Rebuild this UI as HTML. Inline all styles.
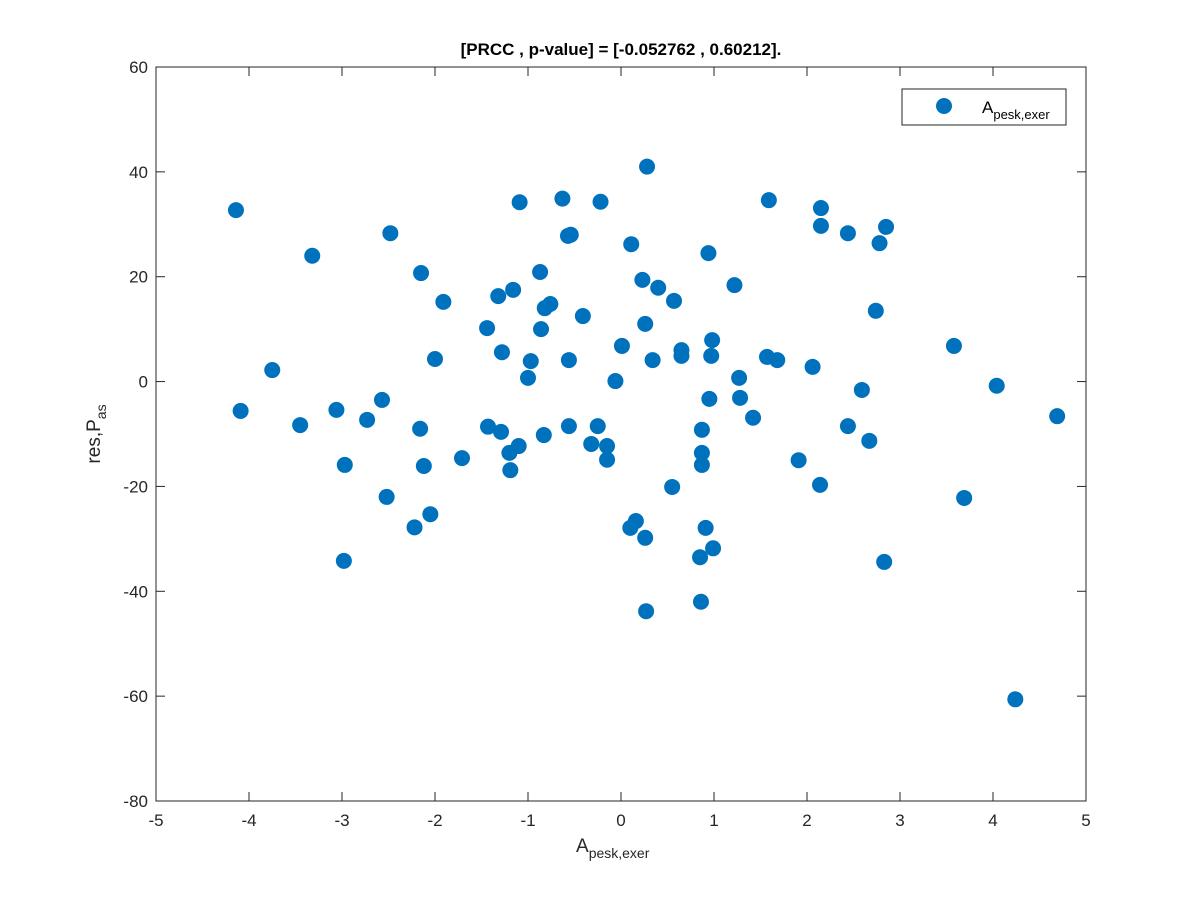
<!DOCTYPE html>
<html><head><meta charset="utf-8"><style>
body{margin:0;background:#fff;}
svg text{font-family:"Liberation Sans",Helvetica,sans-serif;}
</style></head><body>
<svg id="chart" width="1200" height="900" xmlns="http://www.w3.org/2000/svg">
<rect width="1200" height="900" fill="#fff"/>
<text x="621" y="55" text-anchor="middle" font-size="17" font-weight="bold" fill="#000">[PRCC , p-value] = [-0.052762 , 0.60212].</text>
<g id="axes"></g>
<g id="points"></g>
<text x="576" y="852" font-size="19" fill="#262626">A<tspan font-size="14" dy="6">pesk,exer</tspan></text>
<text transform="translate(100,434) rotate(-90)" text-anchor="middle" font-size="19" fill="#262626">res,P<tspan font-size="14" dy="6">as</tspan></text>
<g>
<rect x="902" y="89" width="164" height="36" fill="#fff" stroke="#262626" stroke-width="1"/>
<circle cx="944" cy="106" r="8" fill="#0072BD"/>
<text x="982" y="113" font-size="17" fill="#000">A<tspan font-size="13" dy="6">pesk,exer</tspan></text>
</g>
</svg>
<script>
const xTicks=[-5,-4,-3,-2,-1,0,1,2,3,4,5];
const yTicks=[-80,-60,-40,-20,0,20,40,60];
const xVals=[-4.14,-4.09,-3.75,-3.45,-3.32,-3.06,-2.97,-2.98,-2.73,-2.57,-2.52,-2.48,-2.15,-2.16,-2.12,-2.22,-2.05,-2.00,-1.91,-1.71,-1.44,-1.43,-1.32,-1.29,-1.28,-1.16,-1.20,-1.19,-1.10,-1.09,-1.00,-0.97,-0.87,-0.86,-0.83,-0.82,-0.76,-0.63,-0.57,-0.54,-0.56,-0.56,-0.41,-0.32,-0.25,-0.22,-0.15,-0.15,-0.06,0.01,0.10,0.11,0.16,0.23,0.26,0.26,0.27,0.28,0.34,0.40,0.57,0.55,0.65,0.65,0.85,0.87,0.87,0.87,0.86,0.91,0.94,0.95,0.97,0.98,0.99,1.22,1.27,1.28,1.42,1.57,1.59,1.68,1.91,2.06,2.14,2.15,2.15,2.44,2.44,2.59,2.67,2.74,2.78,2.83,2.85,3.58,3.69,4.04,4.24,4.69];
const yVals=[32.7,-5.6,2.2,-8.3,24.0,-5.4,-15.9,-34.2,-7.3,-3.5,-22.0,28.3,20.7,-9.0,-16.1,-27.8,-25.3,4.3,15.2,-14.6,10.2,-8.6,16.3,-9.6,5.6,17.5,-13.6,-16.9,-12.3,34.2,0.7,3.9,20.9,10.0,-10.2,14.0,14.8,34.9,27.8,28.0,-8.5,4.1,12.5,-11.9,-8.5,34.3,-12.3,-14.9,0.1,6.8,-27.9,26.2,-26.6,19.4,-29.8,11.0,-43.8,41.0,4.1,17.9,15.4,-20.1,6.0,4.9,-33.5,-9.2,-13.6,-15.9,-42.0,-27.9,24.5,-3.3,4.9,7.9,-31.8,18.4,0.7,-3.1,-6.9,4.7,34.6,4.1,-15.0,2.8,-19.7,33.1,29.7,28.3,-8.5,-1.6,-11.3,13.5,26.4,-34.4,29.5,6.8,-22.2,-0.8,-60.6,-6.6];
const L=156,R=1086,T=67,B=801,xMin=-5,xMax=5,yMin=-80,yMax=60;
const sx=v=>L+(v-xMin)/(xMax-xMin)*(R-L);
const sy=v=>B-(v-yMin)/(yMax-yMin)*(B-T);
const NS="http://www.w3.org/2000/svg";
function mk(tag,attrs,parent){const e=document.createElementNS(NS,tag);for(const k in attrs)e.setAttribute(k,attrs[k]);parent.appendChild(e);return e;}
const ax=document.getElementById('axes');
const frame=mk('rect',{x:L,y:T,width:R-L,height:B-T,fill:'none',stroke:'#262626','stroke-width':1},ax);


xTicks.forEach(t=>{const x=sx(t);
 mk('line',{x1:x,y1:B,x2:x,y2:B-9,stroke:'#262626'},ax);
 mk('line',{x1:x,y1:T,x2:x,y2:T+9,stroke:'#262626'},ax);
 const tx=mk('text',{x:x,y:B+25,'text-anchor':'middle','font-size':17,fill:'#262626'},ax);
 tx.textContent=t;
 
 
});
yTicks.forEach(t=>{const y=sy(t);
 mk('line',{x1:L,y1:y,x2:L+9,y2:y,stroke:'#262626'},ax);
 mk('line',{x1:R,y1:y,x2:R-9,y2:y,stroke:'#262626'},ax);
 const tx=mk('text',{x:L-8,y:y+6,'text-anchor':'end','font-size':17,fill:'#262626'},ax);
 tx.textContent=t;
 
 
});
const pg=document.getElementById('points');
xVals.forEach((v,i)=>{
 const c=mk('circle',{cx:sx(v),cy:sy(yVals[i]),r:8,fill:'#0072BD'},pg);
 
 
});
</script>
</body></html>
